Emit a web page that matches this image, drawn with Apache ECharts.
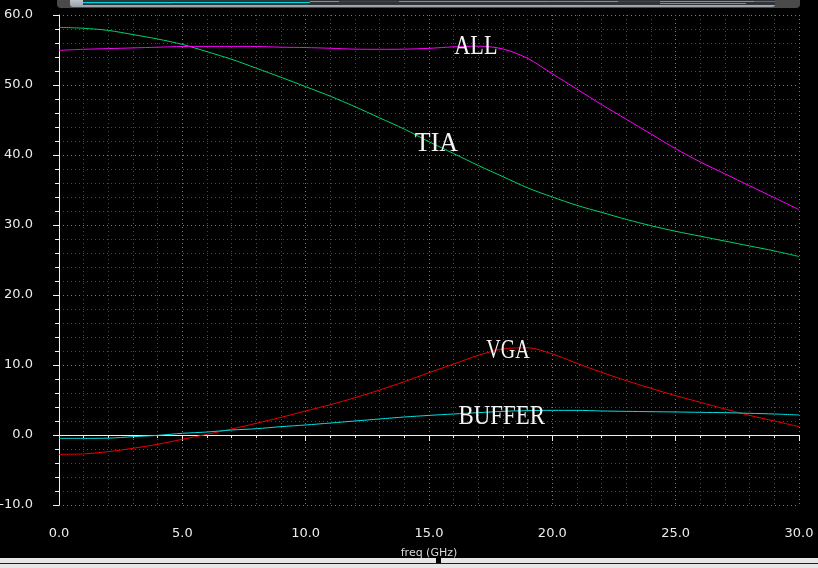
<!DOCTYPE html>
<html>
<head>
<meta charset="utf-8">
<script src="https://cdn.jsdelivr.net/npm/echarts@6/dist/echarts.min.js"></script>
<style>
html,body{margin:0;padding:0;background:#000;}
#c{width:818px;height:568px;}
</style>
</head>
<body>
<div id="c"></div>
<script>
// ---- data ----
const freq = [0,1,2,3,4,5,6,7,8,9,10,11,12,13,14,15,16,17,18,19,20,21,22,23,24,25,26,27,28,29,30];
const xTicks = [0,5,10,15,20,25,30];
const yTicks = [-10,0,10,20,30,40,50,60];

const allGain = [54.95,55.1,55.2,55.3,55.4,55.5,55.52,55.52,55.5,55.4,55.35,55.25,55.12,55.1,55.12,55.24,55.45,55.55,55.15,53.8,51.6,49.4,47.2,45.1,43.0,40.9,39.0,37.3,35.6,33.9,32.2];
const tiaGain = [58.24,58.1,57.8,57.2,56.57,55.8,54.76,53.67,52.4,51.1,49.76,48.4,46.9,45.3,43.7,41.9,40.2,38.5,36.9,35.3,34.0,32.8,31.8,30.8,29.9,29.1,28.4,27.7,27.0,26.3,25.5];
const vgaGain = [-2.76,-2.7,-2.38,-1.9,-1.33,-0.62,0.1,0.86,1.67,2.52,3.43,4.33,5.33,6.43,7.62,8.9,10.14,11.38,12.3,12.45,11.57,10.24,8.95,7.76,6.67,5.62,4.67,3.71,2.8,2.0,1.19];
const bufGain = [-0.48,-0.48,-0.45,-0.24,-0.05,0.24,0.43,0.71,0.9,1.19,1.43,1.71,2.0,2.29,2.57,2.8,3.0,3.19,3.38,3.48,3.52,3.52,3.43,3.38,3.33,3.29,3.24,3.19,3.1,3.0,2.86];

const curveNames = ['ALL','TIA','VGA','BUFFER'];
const annotations = [
  {text:'ALL', f:16.9, v:55.4},
  {text:'TIA', f:15.3, v:41.6},
  {text:'VGA', f:18.2, v:12.1},
  {text:'BUFFER', f:17.95, v:2.6}
];

// ---- chart ----
const pair = arr => freq.map((f,i)=>[f,arr[i]]);
const chart = echarts.init(document.getElementById('c'), null, {renderer:'canvas'});

const dotMinor = {color:'#4a4a4a', width:1, type:[1,3]};
const dotMajor = {color:'#7a7a7a', width:1, type:[1,3]};

const option = {
  backgroundColor:'#000',
  animation:false,
  grid:{left:59, top:15, width:740, height:490, containLabel:false, outerBoundsMode:'none'},
  xAxis:{
    type:'value', min:0, max:30, interval:5, offset:7,
    name:'freq (GHz)', nameLocation:'middle', nameGap:36,
    nameTextStyle:{color:'#d8d8d8', fontSize:11, fontFamily:'DejaVu Sans'},
    axisLine:{show:true, lineStyle:{color:'#f0f0f0', width:1}},
    axisTick:{show:true, inside:false, length:6, lineStyle:{color:'#f0f0f0'}},
    minorTick:{show:true, splitNumber:5, length:3, lineStyle:{color:'#f0f0f0'}},
    axisLabel:{color:'#ececec', fontFamily:'DejaVu Sans', fontSize:13, margin:15,
      formatter:v=>xTicks.indexOf(v)>=0 ? v.toFixed(1) : ''},
    splitLine:{show:true, lineStyle:dotMajor},
    minorSplitLine:{show:true, lineStyle:dotMinor}
  },
  yAxis:{
    type:'value', min:-10, max:60, interval:10, offset:9,
    name:'dB', nameLocation:'middle', nameGap:53,
    nameTextStyle:{color:'#d8d8d8', fontSize:11, fontFamily:'DejaVu Sans'},
    axisLine:{show:true, lineStyle:{color:'#f0f0f0', width:1}},
    axisTick:{show:true, inside:false, length:6, lineStyle:{color:'#f0f0f0'}},
    minorTick:{show:true, splitNumber:5, length:4, lineStyle:{color:'#f0f0f0'}},
    axisLabel:{color:'#ececec', fontFamily:'DejaVu Sans', fontSize:13, margin:17,
      formatter:v=>yTicks.indexOf(v)>=0 ? v.toFixed(1) : ''},
    splitLine:{show:true, lineStyle:dotMajor},
    minorSplitLine:{show:true, lineStyle:dotMinor}
  },
  series:[
    {name:curveNames[0], type:'line', data:pair(allGain), showSymbol:false, smooth:0.3, lineStyle:{color:'#ff00ff', width:1}, z:4},
    {name:curveNames[1], type:'line', data:pair(tiaGain), showSymbol:false, smooth:0.3, lineStyle:{color:'#00d26a', width:1}, z:3},
    {name:curveNames[2], type:'line', data:pair(vgaGain), showSymbol:false, smooth:0.3, lineStyle:{color:'#ee0000', width:1}, z:3},
    {name:curveNames[3], type:'line', data:pair(bufGain), showSymbol:false, smooth:0.3, lineStyle:{color:'#00e0e0', width:1}, z:4}
  ]
};
chart.setOption(option);

// ---- annotations + window chrome ----
const meas = document.createElement('canvas').getContext('2d');
const labelFont = 'Liberation Serif';
const labelSize = 30;
meas.font = labelSize + 'px "' + labelFont + '"';
const labelEls = annotations.map(a=>{
  const p = chart.convertToPixel({gridIndex:0}, [a.f, a.v]);
  const w = meas.measureText(a.text).width;
  const target = a.text.length * 14.4;
  return {
    type:'text', x:p[0], y:p[1], scaleX:target/w, scaleY:0.92, z:50,
    style:{text:a.text, fill:'#f4f4f4', font:labelSize+'px "'+labelFont+'"', align:'center', verticalAlign:'middle'}
  };
});

const chrome = [
  // top overview bar
  {type:'rect', shape:{x:57, y:-6, width:743, height:14, r:4}, style:{fill:'#4a4a4a'}, z:60},
  {type:'rect', shape:{x:70, y:-6, width:705, height:13, r:3},
    style:{fill:new echarts.graphic.LinearGradient(0,0,0,1,[{offset:0,color:'#dfe3e8'},{offset:1,color:'#9aa0a8'}])}, z:61},
  {type:'rect', shape:{x:83, y:0, width:692, height:5}, style:{fill:'#303338'}, z:62},
  {type:'line', shape:{x1:83, y1:2.5, x2:310, y2:2.5}, style:{stroke:'#00d8e0', lineWidth:1}, z:63},
  {type:'line', shape:{x1:83, y1:3.5, x2:172, y2:3.5}, style:{stroke:'#e00000', lineWidth:1}, z:63},
  {type:'line', shape:{x1:310, y1:1.5, x2:775, y2:1.5}, style:{stroke:'#00c8d0', lineWidth:1}, z:63},
  {type:'line', shape:{x1:339, y1:1.5, x2:399, y2:1.5}, style:{stroke:'#e00000', lineWidth:1}, z:64},
  {type:'line', shape:{x1:548, y1:1.5, x2:582, y2:1.5}, style:{stroke:'#00d26a', lineWidth:1}, z:64},
  {type:'line', shape:{x1:618, y1:1.5, x2:660, y2:1.5}, style:{stroke:'#e00000', lineWidth:1}, z:64},
  {type:'line', shape:{x1:660, y1:3.5, x2:746, y2:3.5}, style:{stroke:'#00d26a', lineWidth:1}, z:64},
  {type:'line', shape:{x1:754, y1:1.5, x2:775, y2:1.5}, style:{stroke:'#ff00ff', lineWidth:1}, z:64},
  // bottom strip
  {type:'rect', shape:{x:0, y:558, width:818, height:10}, style:{fill:'#e6e6e6'}, z:60},
  {type:'rect', shape:{x:0, y:563, width:818, height:1}, style:{fill:'#202020'}, z:61},
  {type:'rect', shape:{x:436, y:557, width:5, height:6}, style:{fill:'#000'}, z:62}
];

chart.setOption({graphic:{elements: labelEls.concat(chrome)}});
</script>
</body>
</html>
